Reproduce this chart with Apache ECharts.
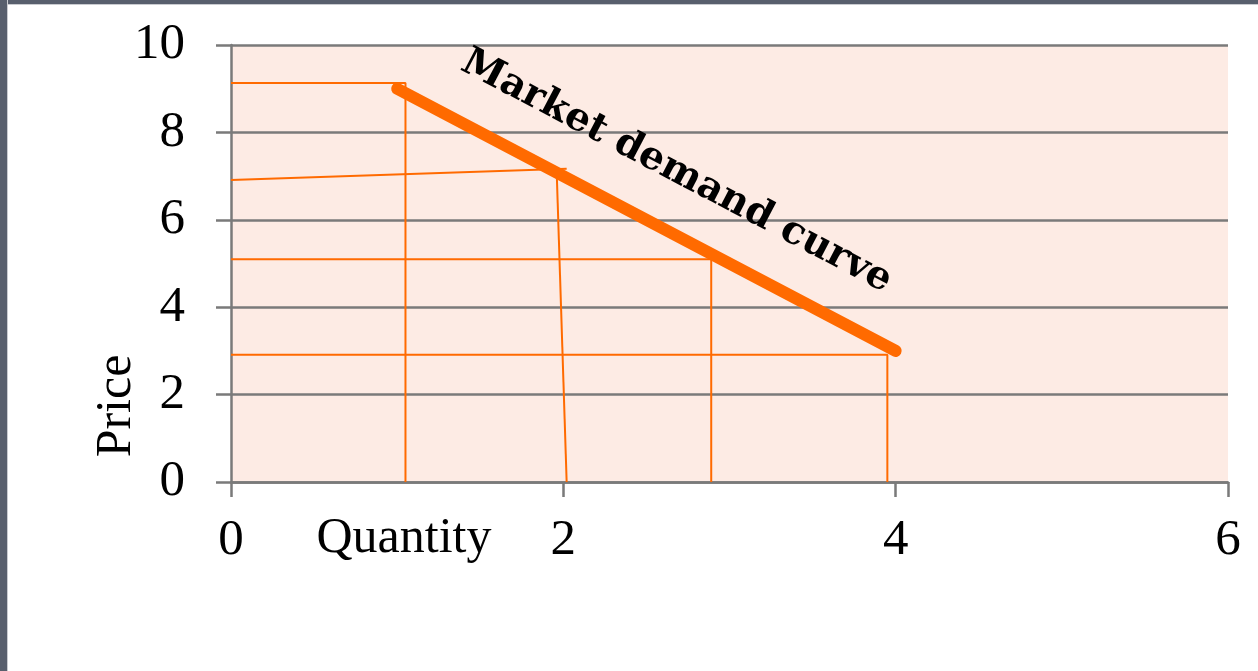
<!DOCTYPE html>
<html>
<head>
<meta charset="utf-8">
<script src="https://cdn.jsdelivr.net/npm/echarts@6/dist/echarts.min.js"></script>
<style>
  html, body { margin: 0; padding: 0; background: #fff; }
  #wrap { position: relative; width: 1258px; height: 671px; overflow: hidden; }
  #chart { position: absolute; left: 0; top: 0; width: 1258px; height: 671px; }
  .edgeTop { position: absolute; left: 0; top: 0; width: 1258px; height: 4px; background: #585f6d; border-bottom: 1px solid #c9cbd0; }
  .edgeLeft { position: absolute; left: 0; top: 0; width: 7px; height: 671px; background: #585f6d; border-right: 1px solid #c9cbd0; }
</style>
</head>
<body>
<div id="wrap">
  <div id="chart"></div>
  <div class="edgeTop"></div>
  <div class="edgeLeft"></div>
</div>
<script>
// Axis ticks
const xTicks = [0, 2, 4, 6];
const yTicks = [0, 2, 4, 6, 8, 10];

// Market demand curve: (quantity, price)
const demandCurve = [[1, 9], [4, 3]];

// Individual price/quantity guide lines (hand-drawn look)
const guide1 = [[0, 9.13], [1.05, 9.13], [1.05, 0]];
const guide2a = [[0, 6.91], [2.02, 7.17]];
const guide2b = [[1.96, 7.1], [2.02, 0]];
const guide3 = [[0, 5.1], [2.89, 5.1], [2.89, 0]];
const guide4 = [[0, 2.91], [3.95, 2.91], [3.95, 0]];

const curveLabel = 'Market demand curve';
const curveLabelAt = [2.68, 7.1];

const serif = '"Liberation Serif", "DejaVu Serif", serif';
const orange = '#ff6a00';
const gray = '#7a7a7a';

const chart = echarts.init(document.getElementById('chart'), null, { renderer: 'canvas' });

function guide(data) {
  return {
    type: 'line', data: data, symbol: 'none', silent: true, z: 2,
    lineStyle: { color: orange, width: 2 }, animation: false
  };
}

chart.setOption({
  animation: false,
  grid: {
    left: 231, top: 45, right: 30, bottom: 189,
    show: true, backgroundColor: '#fdebe4', borderWidth: 0
  },
  xAxis: {
    type: 'value', min: xTicks[0], max: xTicks[xTicks.length - 1], interval: 2,
    axisLine: { show: true, onZero: false, lineStyle: { color: gray, width: 2.5 } },
    axisTick: { show: true, length: 15, lineStyle: { color: gray, width: 2.5 } },
    axisLabel: { fontFamily: serif, fontSize: 51, color: '#000', margin: 33 },
    splitLine: { show: false }
  },
  yAxis: {
    type: 'value', min: yTicks[0], max: yTicks[yTicks.length - 1], interval: 2,
    axisLine: { show: true, lineStyle: { color: gray, width: 2.5 } },
    axisTick: { show: true, length: 15, lineStyle: { color: gray, width: 2.5 } },
    axisLabel: { fontFamily: serif, fontSize: 51, color: '#000', margin: 46 },
    splitLine: { show: true, lineStyle: { color: gray, width: 2.5 } }
  },
  series: [
    guide(guide1), guide(guide2a), guide(guide2b), guide(guide3), guide(guide4),
    {
      type: 'line', data: demandCurve, symbol: 'none', silent: true, z: 5,
      lineStyle: { color: orange, width: 12, cap: 'round' }
    }
  ]
});

const c = chart.convertToPixel({ gridIndex: 0 }, curveLabelAt);
const p0 = chart.convertToPixel({ gridIndex: 0 }, demandCurve[0]);
const p1 = chart.convertToPixel({ gridIndex: 0 }, demandCurve[1]);
const angle = Math.atan2(p1[1] - p0[1], p1[0] - p0[0]);

chart.setOption({
  graphic: [
    {
      type: 'text', x: c[0], y: c[1], rotation: -angle, z: 10,
      style: {
        text: curveLabel, fill: '#000', align: 'center', verticalAlign: 'middle',
        font: 'bold 39px "DejaVu Serif", serif'
      }
    },
    {
      type: 'text', x: 117, y: 406, rotation: Math.PI / 2, z: 10,
      style: { text: 'Price', fill: '#000', align: 'center', verticalAlign: 'middle', font: '50px ' + serif }
    },
    {
      type: 'text', x: 404, y: 539, z: 10,
      style: { text: 'Quantity', fill: '#000', align: 'center', verticalAlign: 'middle', font: '50px ' + serif }
    }
  ]
});
</script>
</body>
</html>
